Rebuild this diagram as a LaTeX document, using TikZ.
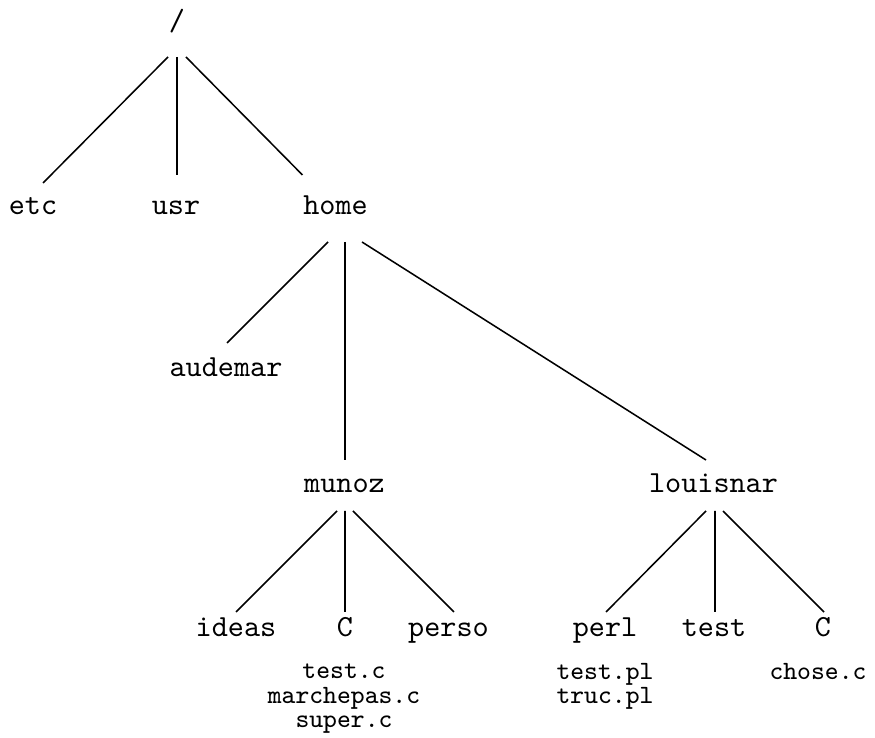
\documentclass[tikz,border=0pt]{standalone}
\begin{document}
\begin{tikzpicture}[x=0.326pt,y=-0.326pt,
  dir/.style={inner sep=0pt,outer sep=0pt,anchor=base,font=\fontsize{10}{12}\selectfont\ttfamily},
  files/.style={inner sep=0pt,outer sep=0pt,anchor=north,align=center,font=\fontsize{8.6}{8}\selectfont\ttfamily},
  link/.style={line width=0.5pt}]
\useasboundingbox (0,0) rectangle (875,738);
% nodes
\node[dir] (root) at (177,31) {/};
\node[dir] (etc) at (33,215) {etc};
\node[dir] (usr) at (176,215) {usr};
\node[dir] (home) at (335.5,215) {home};
\node[dir] (audemar) at (226,377) {audemar};
\node[dir] (munoz) at (344.5,493) {munoz};
\node[dir] (louisnar) at (713.5,493) {louisnar};
\node[dir] (ideas) at (236,637) {ideas};
\node[dir] (cm) at (345,637) {C};
\node[dir] (perso) at (448.5,637) {perso};
\node[dir] (perl) at (605,637) {perl};
\node[dir] (test) at (714,637) {test};
\node[dir] (cl) at (823,637) {C};
\node[files] (cmfiles) at (344,664) {test.c\\marchepas.c\\super.c};
\node[files] (perlfiles) at (605,663) {test.pl\\truc.pl};
\node[files] (clfiles) at (818,663) {chose.c};
% connectors
\draw[link] ([shift={(-9,26)}]root.base) -- ([shift={(10,-32)}]etc.base);
\draw[link] ([shift={(0,26)}]root.base) -- ([shift={(1,-40)}]usr.base);
\draw[link] ([shift={(9,26)}]root.base) -- ([shift={(-33,-40)}]home.base);
\draw[link] ([shift={(-7.5,27)}]home.base) -- ([shift={(1,-34)}]audemar.base);
\draw[link] ([shift={(9.5,27)}]home.base) -- ([shift={(0.5,-33)}]munoz.base);
\draw[link] ([shift={(26.5,27)}]home.base) -- ([shift={(-7.5,-33)}]louisnar.base);
\draw[link] ([shift={(-7.5,18)}]munoz.base) -- ([shift={(0,-25)}]ideas.base);
\draw[link] ([shift={(0.5,18)}]munoz.base) -- ([shift={(0,-25)}]cm.base);
\draw[link] ([shift={(8.5,18)}]munoz.base) -- ([shift={(5.5,-25)}]perso.base);
\draw[link] ([shift={(-7.5,18)}]louisnar.base) -- ([shift={(1,-25)}]perl.base);
\draw[link] ([shift={(1.5,18)}]louisnar.base) -- ([shift={(1,-25)}]test.base);
\draw[link] ([shift={(9.5,18)}]louisnar.base) -- ([shift={(1,-25)}]cl.base);
\end{tikzpicture}
\end{document}
